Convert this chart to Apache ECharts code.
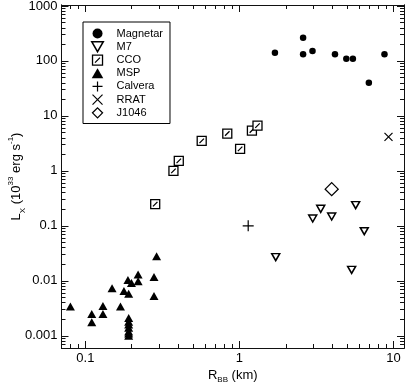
<!DOCTYPE html>
<html>
<head>
<meta charset="utf-8">
<script src="https://cdn.jsdelivr.net/npm/echarts@6/dist/echarts.min.js"></script>
<style>
  html, body { margin: 0; padding: 0; background: #fff; }
  #chart { width: 407px; height: 385px; }
</style>
</head>
<body>
<div id="chart"></div>
<script>
// data: [R_BB (km), L_X (1e33 erg/s)]
var magnetar = [[1.70, 141], [2.59, 265], [2.59, 132], [2.98, 152], [4.17, 132],
                [4.94, 110], [5.45, 110], [6.92, 40], [8.74, 132]];
var m7 = [[1.72, 0.027], [2.99, 0.136], [3.37, 0.204], [3.97, 0.148],
          [5.68, 0.238], [6.46, 0.080], [5.35, 0.0158]];
var cco = [[0.284, 0.248], [0.373, 1.0], [0.404, 1.52], [0.569, 3.51],
           [0.834, 4.77], [1.01, 2.51], [1.205, 5.41], [1.31, 6.66]];
var msp = [[0.080, 0.0034], [0.110, 0.0025], [0.110, 0.00176], [0.130, 0.0035],
           [0.130, 0.0025], [0.149, 0.0073], [0.169, 0.0034], [0.178, 0.0065],
           [0.189, 0.0104], [0.191, 0.0058], [0.199, 0.0091], [0.220, 0.0131],
           [0.220, 0.0098], [0.279, 0.0117], [0.279, 0.0053], [0.290, 0.028],
           [0.191, 0.0021], [0.191, 0.0018], [0.191, 0.0016], [0.191, 0.0014],
           [0.191, 0.0012], [0.191, 0.0011], [0.191, 0.0010]];
var calvera = [[1.14, 0.1]];
var rrat = [[9.28, 4.15]];
var j1046 = [[3.97, 0.465]];

var xMajor = [0.1, 1, 10];
var yMajor = [0.001, 0.01, 0.1, 1, 10, 100, 1000];
var xMin = 0.07, xMax = 11.7;
var yMin = 0.0006, yMax = 1040;

// minor ticks 2..9 in every decade
function minors(decades) {
  var out = [];
  decades.forEach(function (d) {
    for (var k = 2; k <= 9; k++) out.push(+(d * k).toPrecision(3));
  });
  return out;
}
var xMinor = [0.07, 0.08, 0.09].concat(minors([0.1, 1]));
var yMinor = minors([0.0001, 0.001, 0.01, 0.1, 1, 10, 100]);

var FONT = 'Liberation Sans';

// symbols
var DOWN_TRI = 'path://M0 0 L10 0 L5 8.66 Z';
var UP_TRI = 'path://M5 0 L10 8.66 L0 8.66 Z';
var HATCH_SQ = 'path://M0 0 H10 V10 H0 Z M2.5 7.5 L7.5 2.5';
var PLUS = 'path://M5 0 V10 M0 5 H10';
var CROSS = 'path://M0 0 L10 10 M10 0 L0 10';
var DIAMOND = 'path://M5 0 L10 5 L5 10 L0 5 Z';

function fmt(v) { return String(+(+v).toPrecision(3)); }

function makeAxis(pos, min, max, ticks, len, labels, extra) {
  var ax = {
    type: 'log', logBase: 10, position: pos, min: min, max: max,
    axisLine: { show: true, onZero: false, lineStyle: { color: '#111', width: 1 } },
    axisTick: { show: true, inside: true, length: len, customValues: ticks,
                lineStyle: { color: '#111', width: 1 } },
    axisLabel: labels ? { show: true, customValues: labels, formatter: fmt,
                          color: '#000', fontSize: 13, fontFamily: FONT, margin: 4 }
                      : { show: false },
    splitLine: { show: false },
    minorTick: { show: false }
  };
  for (var k in extra) ax[k] = extra[k];
  return ax;
}

var chart = echarts.init(document.getElementById('chart'), null, { renderer: 'canvas' });

var option = {
  animation: false,
  grid: { left: 61.5, right: 3, top: 5, bottom: 37, containLabel: false, outerBoundsMode: 'none' },
  xAxis: [
    makeAxis('bottom', xMin, xMax, xMajor, 7, xMajor, {
      name: '{n|R}{sub|BB}{n| (km)}', nameLocation: 'middle', nameGap: 18,
      nameMoveOverlap: false,
      nameTextStyle: {
        color: '#000', fontFamily: FONT,
        rich: {
          n: { fontSize: 13, fontFamily: FONT, lineHeight: 18, color: '#000' },
          sub: { fontSize: 8, fontFamily: FONT, lineHeight: 8, verticalAlign: 'bottom', color: '#000' }
        }
      }
    }),
    makeAxis('bottom', xMin, xMax, xMinor, 4, null, {}),
    makeAxis('top', xMin, xMax, xMajor, 7, null, {}),
    makeAxis('top', xMin, xMax, xMinor, 4, null, {})
  ],
  yAxis: [
    makeAxis('left', yMin, yMax, yMajor, 7, yMajor, {
      name: '{n|L}{sub|X}{n| (10}{sup|33}{n| erg s}{sup|-1}{n|)}',
      nameLocation: 'middle', nameGap: 35, nameRotate: 90,
      nameMoveOverlap: false,
      nameTextStyle: {
        color: '#000', fontFamily: FONT,
        rich: {
          n: { fontSize: 13, fontFamily: FONT, lineHeight: 20, color: '#000' },
          sub: { fontSize: 8, fontFamily: FONT, lineHeight: 8, verticalAlign: 'bottom', color: '#000' },
          sup: { fontSize: 8, fontFamily: FONT, lineHeight: 8, verticalAlign: 'top', color: '#000' }
        }
      }
    }),
    makeAxis('left', yMin, yMax, yMinor, 4, null, {}),
    makeAxis('right', yMin, yMax, yMajor, 7, null, {}),
    makeAxis('right', yMin, yMax, yMinor, 4, null, {})
  ],
  legend: {
    orient: 'vertical', left: 83, top: 22,
    padding: [6, 7, 5, 8],
    itemWidth: 28, itemHeight: 10, itemGap: 2,
    symbolKeepAspect: true,
    borderColor: '#000', borderWidth: 1, borderRadius: 0,
    backgroundColor: '#fff',
    textStyle: { color: '#000', fontSize: 11, fontFamily: FONT },
    data: [
      { name: 'Magnetar', icon: 'circle', itemStyle: { color: '#000', borderWidth: 0 } },
      { name: 'M7', icon: DOWN_TRI, itemStyle: { color: '#fff', borderColor: '#000', borderWidth: 1.5 } },
      { name: 'CCO', icon: HATCH_SQ, itemStyle: { color: '#fff', borderColor: '#000', borderWidth: 1.3 } },
      { name: 'MSP', icon: UP_TRI, itemStyle: { color: '#000', borderWidth: 0 } },
      { name: 'Calvera', icon: PLUS, itemStyle: { color: 'transparent', borderColor: '#000', borderWidth: 1.2 } },
      { name: 'RRAT', icon: CROSS, itemStyle: { color: 'transparent', borderColor: '#000', borderWidth: 1.2 } },
      { name: 'J1046', icon: DIAMOND, itemStyle: { color: '#fff', borderColor: '#000', borderWidth: 1.3 } }
    ]
  },
  series: [
    { name: 'Magnetar', type: 'scatter', data: magnetar, symbol: 'circle', symbolSize: 6.5,
      itemStyle: { color: '#000', opacity: 1 } },
    { name: 'M7', type: 'scatter', data: m7, symbol: DOWN_TRI, symbolSize: [8, 7],
      itemStyle: { color: '#fff', borderColor: '#000', borderWidth: 1.5, opacity: 1 } },
    { name: 'CCO', type: 'scatter', data: cco, symbol: HATCH_SQ, symbolSize: 9,
      itemStyle: { color: '#fff', borderColor: '#000', borderWidth: 1.3, opacity: 1 } },
    { name: 'MSP', type: 'scatter', data: msp, symbol: UP_TRI, symbolSize: [9, 8],
      itemStyle: { color: '#000', opacity: 1 } },
    { name: 'Calvera', type: 'scatter', data: calvera, symbol: PLUS, symbolSize: 11,
      itemStyle: { color: 'transparent', borderColor: '#000', borderWidth: 1.2, opacity: 1 } },
    { name: 'RRAT', type: 'scatter', data: rrat, symbol: CROSS, symbolSize: 8,
      itemStyle: { color: 'transparent', borderColor: '#000', borderWidth: 1.2, opacity: 1 } },
    { name: 'J1046', type: 'scatter', data: j1046, symbol: DIAMOND, symbolSize: 13,
      itemStyle: { color: '#fff', borderColor: '#000', borderWidth: 1.3, opacity: 1 } }
  ]
};

chart.setOption(option);
</script>
</body>
</html>
